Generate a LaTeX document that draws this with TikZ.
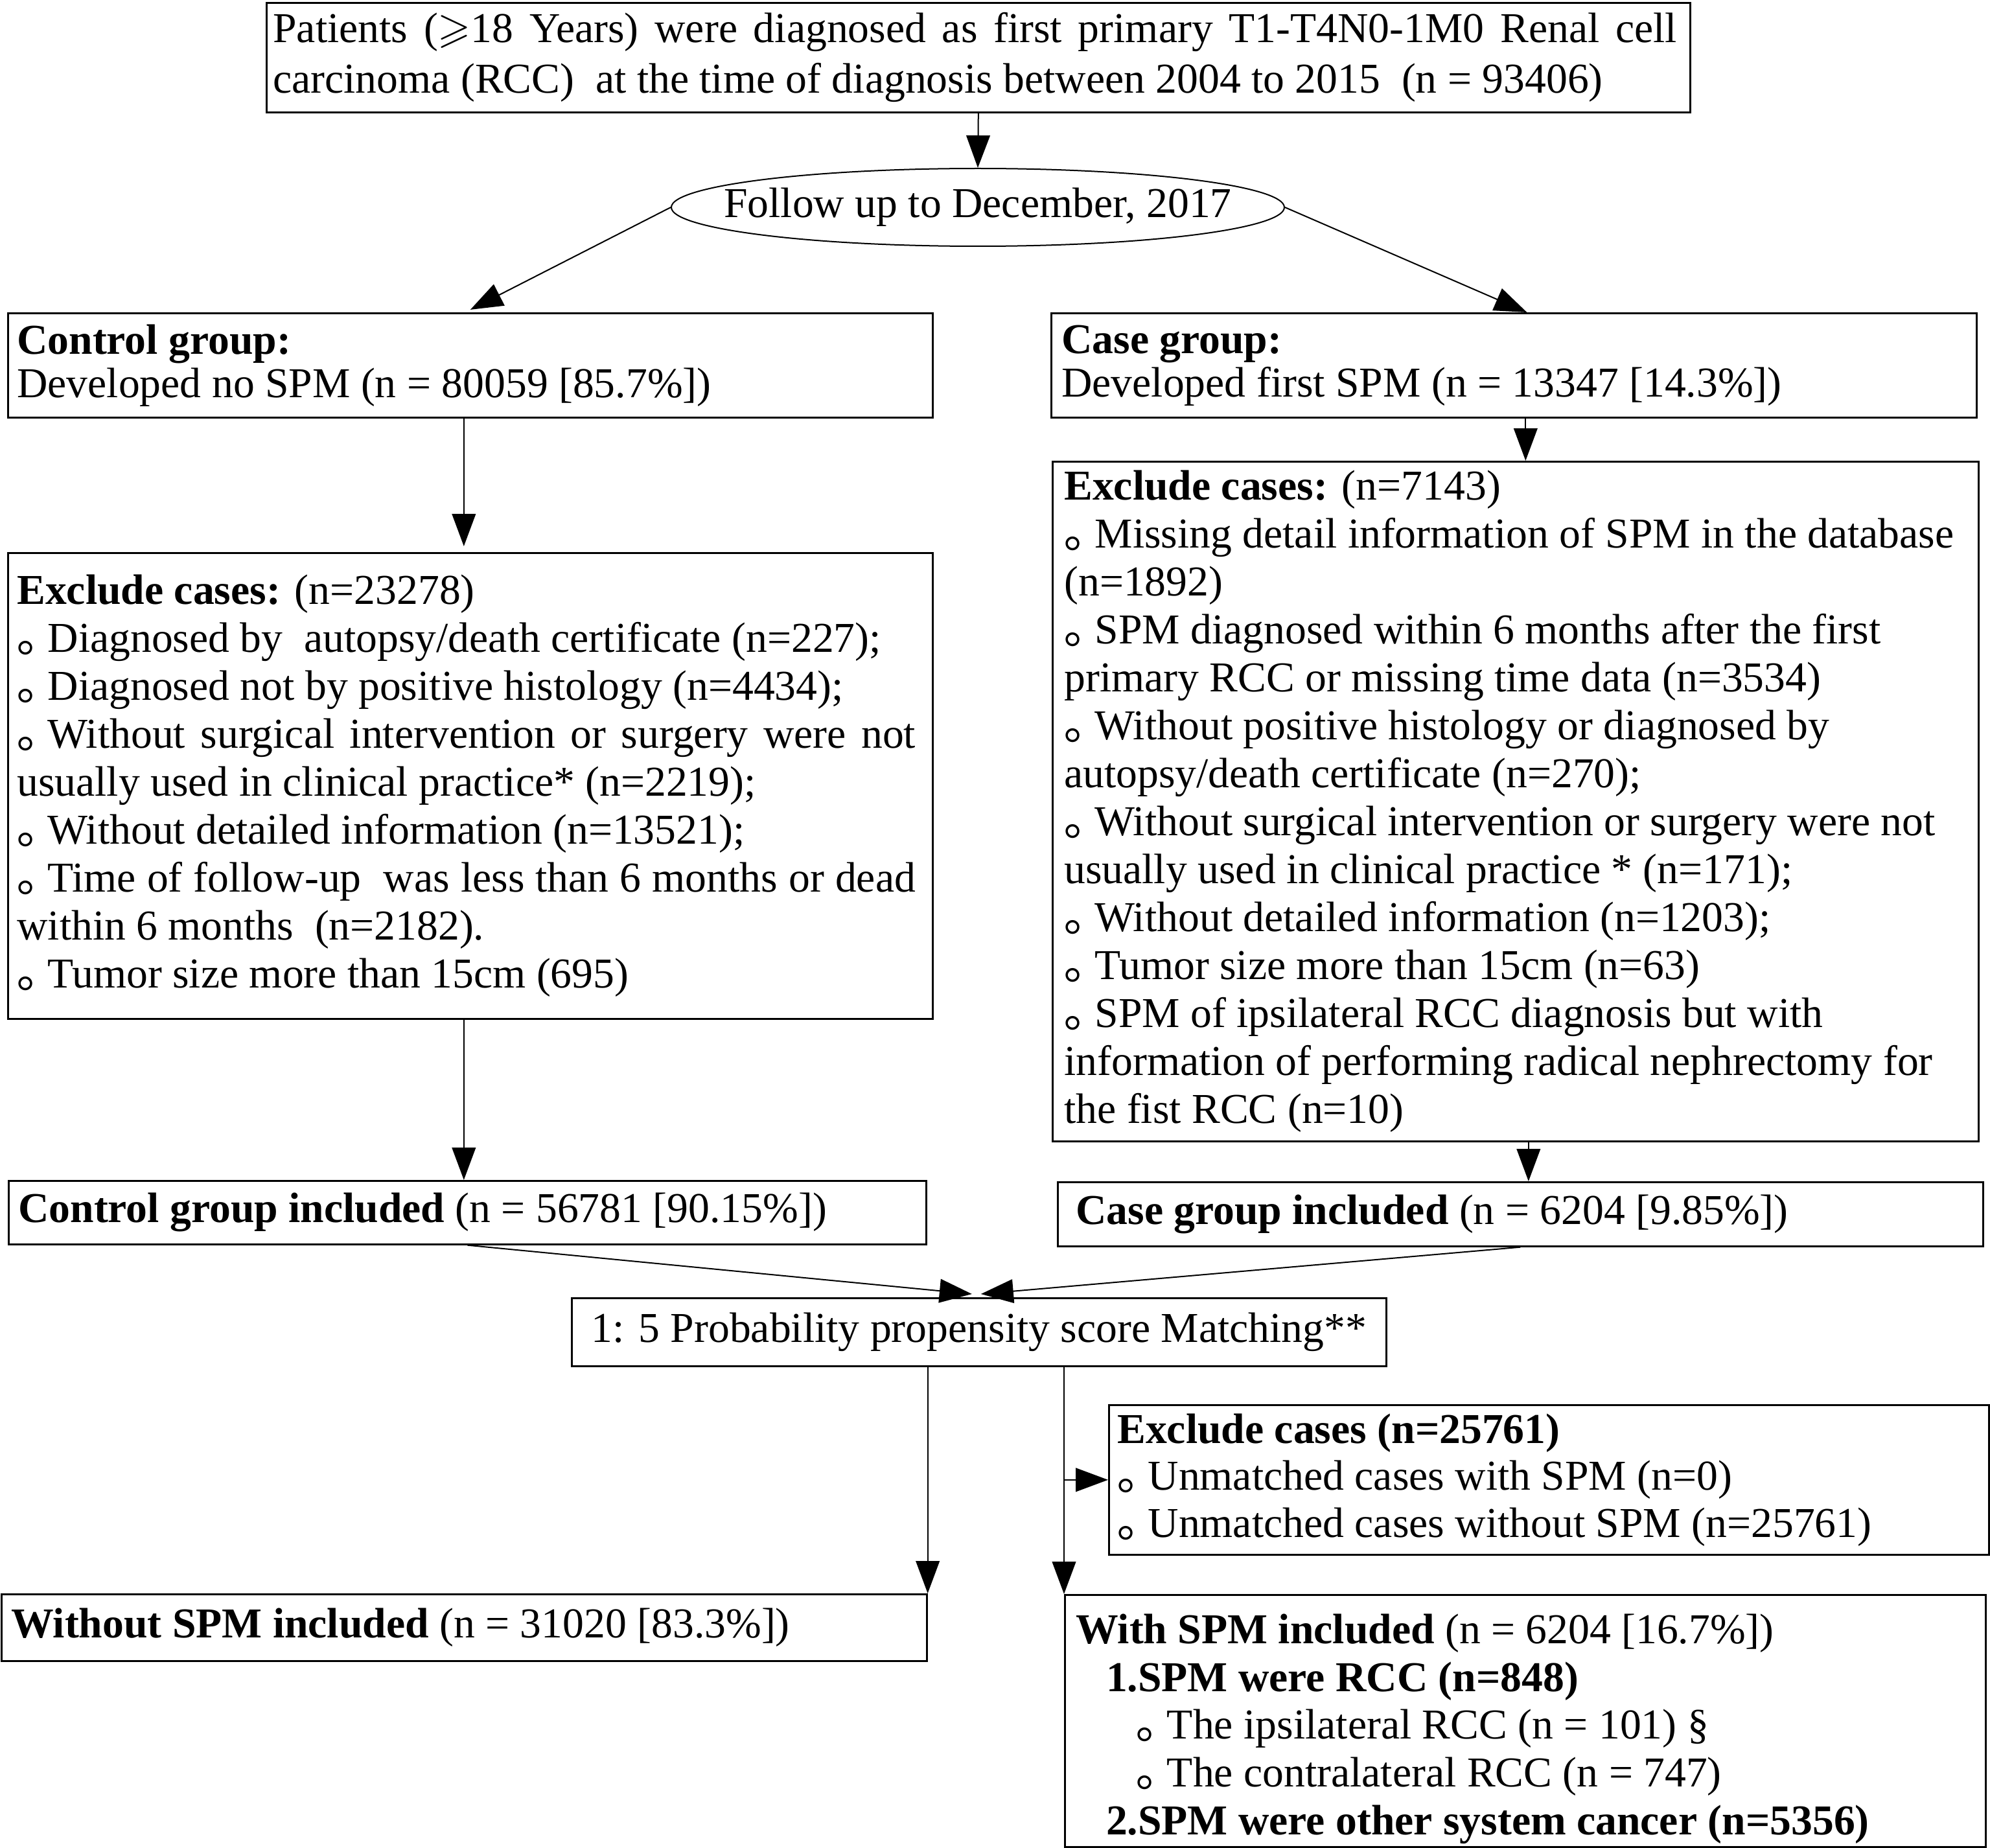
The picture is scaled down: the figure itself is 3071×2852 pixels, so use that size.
\documentclass[tikz,border=0pt]{standalone}
\usepackage{fontspec}
\setmainfont{Liberation Serif}
\newfontfamily\cjk{Noto Sans CJK SC}
\usepackage{amssymb}
\usetikzlibrary{arrows.meta,calc,shapes.geometric}
\newcommand\ns{\spaceskip=0pt\relax\xspaceskip=0pt\relax}
\newcommand\bul{\makebox[0.72em][l]{\cjk\fontsize{21pt}{21pt}\selectfont ｡}}
\newcommand\fsA{\fontsize{19.7pt}{22.2pt}\selectfont}
\newcommand\fsB{\fontsize{19.7pt}{20.1pt}\selectfont}
\newcommand\fsT{\fontsize{19.7pt}{23.4pt}\selectfont}
\newcommand\jl[2]{\makebox[#1][s]{\ns #2}}
\begin{document}
\begin{tikzpicture}[x=0.3pt,y=-0.3pt,
  box/.style={draw, line width=0.8pt, rectangle, anchor=north west, inner ysep=0pt, align=left, font=\fsA, execute at begin node=\ns},
  arr/.style={-{Triangle[length=15pt,width=11pt]}, line width=0.6pt}]
\fill[white] (0,0) rectangle (3071,2852);
\useasboundingbox (0,0) rectangle (3071,2852);

\node[box, font=\fsT, text width=653.1pt, inner xsep=3pt, minimum height=50.7pt] (top) at (410,3)
 {\ns\jl{650pt}{Patients ($\geqslant$18 Years) were diagnosed as first primary T1-T4N0-1M0 Renal cell}\\
  carcinoma (RCC)~ at the time of diagnosis between 2004 to 2015~ (n = 93406)};

\node[draw, ellipse, line width=0.6pt, minimum width=283.8pt, minimum height=36pt, inner sep=0pt, font=\fsA] (fu) at (1509,320) {\makebox[0pt]{\ns Follow up to December, 2017}};

\node[box, font=\fsB, text width=419.7pt, inner xsep=4.2pt, minimum height=48.3pt] (ctrl) at (11,482)
 {\ns\textbf{Control group:}\\Developed no SPM (n = 80059 [85.7\%])};
\node[box, font=\fsB, text width=418.8pt, inner xsep=4.8pt, minimum height=48.3pt] (case) at (1621,482)
 {\ns\textbf{Case group:}\\Developed first SPM (n = 13347 [14.3\%])};

\node[box, text width=419.7pt, inner xsep=4.2pt, minimum height=215.7pt] (ex1) at (11,852)
 {\ns\textbf{Exclude cases:} (n=23278)\\
  \bul Diagnosed by~ autopsy/death certificate (n=227);\\
  \bul Diagnosed not by positive histology (n=4434);\\
  \jl{416pt}{\bul Without surgical intervention or surgery were not}\\
  usually used in clinical practice* (n=2219);\\
  \bul Without detailed information (n=13521);\\
  \jl{416pt}{\bul Time of follow-up~ was less than 6 months or dead}\\
  within 6 months~ (n=2182).\\
  \bul Tumor size more than 15cm (695)};

\node[box, text width=417.9pt, inner xsep=5.4pt, minimum height=314.7pt] (ex2) at (1623,711)
 {\ns\textbf{Exclude cases:} (n=7143)\\
  \bul Missing detail information of SPM in the database\\
  (n=1892)\\
  \bul SPM diagnosed within 6 months after the first\\
  primary RCC or missing time data (n=3534)\\
  \bul Without positive histology or diagnosed by\\
  autopsy/death certificate (n=270);\\
  \bul Without surgical intervention or surgery were not\\
  usually used in clinical practice * (n=171);\\
  \bul Without detailed information (n=1203);\\
  \bul Tumor size more than 15cm (n=63)\\
  \bul SPM of ipsilateral RCC diagnosis but with\\
  information of performing radical nephrectomy for\\
  the fist RCC (n=10)};

\node[box, text width=415.8pt, inner xsep=4.5pt, minimum height=29.4pt] (ctrlinc) at (12,1821)
 {\ns\textbf{Control group included} (n = 56781 [90.15\%])};
\node[box, text width=411.6pt, inner xsep=8.4pt, minimum height=29.7pt] (caseinc) at (1631,1823)
 {\ns\textbf{Case group included} (n = 6204 [9.85\%])};

\node[box, align=center, inner xsep=0pt, minimum width=377.1pt, minimum height=31.5pt] (match) at (881,2002)
 {\ns 1: 5 Probability propensity score Matching**};

\node[box, font={\fontsize{19.7pt}{21.75pt}\selectfont}, text width=399.6pt, inner xsep=3.9pt, minimum height=69.3pt] (exu) at (1710,2167)
 {\ns\textbf{Exclude cases (n=25761)}\\
  \bul Unmatched cases with SPM (n=0)\\
  \bul Unmatched cases without SPM (n=25761)};

\node[box, text width=419.4pt, inner xsep=4.5pt, minimum height=30.9pt] (wo) at (1,2459)
 {\ns\textbf{Without SPM included} (n = 31020 [83.3\%])};

\node[box, font={\fontsize{19.7pt}{22.1pt}\selectfont}, text width=416.1pt, inner xsep=5.1pt, minimum height=116.7pt] (w) at (1642,2460)
 {\ns\rule{0pt}{21pt}\textbf{With SPM included} (n = 6204 [16.7\%])\\
  \hspace*{14pt}\textbf{1.SPM were RCC (n=848)}\\
  \hspace*{28pt}\bul The ipsilateral RCC (n = 101) \S\\
  \hspace*{28pt}\bul The contralateral RCC (n = 747)\\
  \hspace*{14pt}\textbf{2.SPM were other system cancer (n=5356)}};

% connectors
\draw[arr] (top.south) -- (fu.north);
\draw[arr, shorten >=2.7pt] (fu.west) -- ($(ctrl.north)+(-8,0)$);
\draw[arr] (fu.east) -- ($(case.north)+(20,0)$);
\coordinate (c0) at ($(ctrl.south)+(-10,0)$);
\draw[arr, shorten >=2.7pt] (c0) -- (c0 |- ex1.north);
\coordinate (c1) at ($(case.south)+(18,0)$);
\draw[arr] (c1) -- (c1 |- ex2.north);
\coordinate (c3) at ($(ex1.south)+(-10,0)$);
\draw[arr] (c3) -- (c3 |- ctrlinc.north);
\coordinate (c2) at ($(ex2.south)+(20,0)$);
\draw[arr] (c2) -- (c2 |- caseinc.north);
\draw[arr] (ctrlinc.south) -- ($(match.north)+(-11,-5)$);
\draw[arr] (caseinc.south) -- ($(match.north)+(3,-5)$);
\draw[arr] (match.south -| wo.north east) -- (wo.north east);
\draw[arr] (match.south -| w.north west) -- (w.north west);
\draw[arr] (exu.west -| w.north west) -- (exu.west);
\end{tikzpicture}
\end{document}
